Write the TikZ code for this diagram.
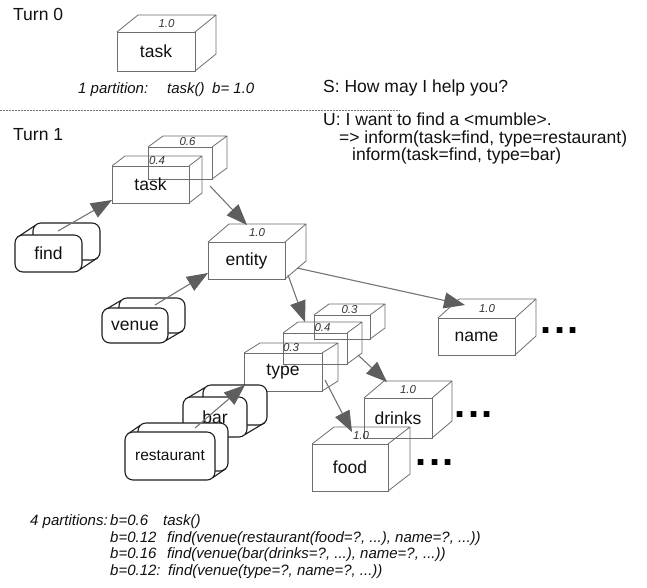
\documentclass[tikz,border=0pt]{standalone}
\usepackage{fontspec}
\setmainfont{Liberation Sans}
\usetikzlibrary{arrows.meta,calc}
\definecolor{edgecol}{HTML}{6E6E6E}
\definecolor{arrcol}{HTML}{747474}
\definecolor{headcol}{HTML}{5E5E5E}
\definecolor{rndcol}{HTML}{1E1E1E}
\definecolor{txtcol}{HTML}{111111}
\tikzset{
  face/.style={draw=edgecol, line width=0.8pt, inner sep=0pt, outer sep=0pt, text=txtcol, font=\fontsize{17.5}{21}\selectfont},
  edge/.style={draw=edgecol, line width=0.8pt, line join=round},
  toplbl/.style={inner sep=0pt, text=txtcol!85, font=\fontsize{11.5}{13}\selectfont\itshape},
  rnd/.style={draw=rndcol, fill=white, line width=1.1pt, rounded corners=8pt, inner sep=0pt, outer sep=0pt, text=txtcol, font=\fontsize{17.5}{21}\selectfont},
  rline/.style={draw=rndcol, line width=1.1pt},
  arr/.style={draw=arrcol, line width=1.1pt, -{Triangle[length=21pt,width=16pt,color=headcol]}},
  maintext/.style={inner sep=0pt, anchor=base west, text=txtcol, font=\fontsize{17.5}{21}\selectfont},
  ittext/.style={inner sep=0pt, anchor=base west, text=txtcol, font=\fontsize{15}{18}\selectfont\itshape},
  dots/.style={inner sep=0pt, anchor=base west, text=black, font=\fontsize{40}{44}\selectfont\bfseries},
  divider/.style={draw=arrcol, line width=0.6pt, dash pattern=on 2pt off 1pt}
}
% name, cx, cy, w, h, dx, dy, top label, text
\newcommand\cbox[9]{%
  \node[face, minimum width=#4, minimum height=#5] (#1) at (#2,#3) {#9};
  \draw[edge] (#1.north west) -- ++(#6,-#7) -- ($(#1.north east)+(#6,-#7)$) -- (#1.north east);
  \draw[edge] ($(#1.north east)+(#6,-#7)$) -- ($(#1.south east)+(#6,-#7)$) -- (#1.south east);
  \node[toplbl] at ($(#1.north)+(#6/2,-#7/2)$) {#8};
}
% name, cx, cy, w, h, dx, dy, text
\newcommand\rbox[8]{%
  \node[rnd, minimum width=#4, minimum height=#5] (#1b) at ($(#2,#3)+(#6,-#7)$) {};
  \draw[rline] ($(#2,#3)+(-#4/2+2.3,-#5/2+2.3)$) -- ++(#6,-#7);
  \draw[rline] ($(#2,#3)+(#4/2-2.3,#5/2-2.3)$) -- ++(#6,-#7);
  \node[rnd, minimum width=#4, minimum height=#5] (#1) at (#2,#3) {#8};
}
\begin{document}
\begin{tikzpicture}[x=1pt,y=-1pt]
\path[fill=white, use as bounding box] (0,0) rectangle (647,587);

% Turn 0
\node[maintext] (turn0) at (13,20) {Turn 0};
\cbox{tzero}{156}{51.5}{78}{39}{21}{17}{1.0}{task}
\node[ittext] (p1a) at (78,93) {1 partition:};
\node[ittext] (p1b) at (167,93) {task()};
\node[ittext] (p1c) at (212,93) {b= 1.0};
\coordinate (divL) at (0,110);
\coordinate (divR) at (400,110);
\draw[divider] (divL) -- (divR);

% dialogue
\node[maintext] (sys) at (323,92) {S: How may I help you?};
\node[maintext] (usr) at (323,125) {U: I want to find a <mumble>.};
\node[maintext] (inf1) at (339,143) {=> inform(task=find, type=restaurant)};
\node[maintext] (inf2) at (352,160) {inform(task=find, type=bar)};

% Turn 1
\node[maintext] (turn1) at (13,140) {Turn 1};
\cbox{taskB}{180}{163}{64}{32}{15}{11}{0.6}{}
\cbox{task}{150.5}{184.5}{77}{37}{13}{10}{0.4}{task}
\cbox{entity}{246.5}{260.5}{77}{37}{21}{18}{1.0}{entity}
\cbox{name}{476.5}{336.5}{77}{37}{21}{19}{1.0}{name}
\cbox{typeC}{342}{327}{56}{24}{15}{11}{0.3}{}
\cbox{typeB}{315}{348.5}{64}{31}{15}{11}{0.4}{}
\cbox{type}{283}{372}{78}{38}{16}{10}{0.3}{type}
\cbox{drinks}{398}{418}{68}{40}{20}{17}{1.0}{drinks}
\cbox{food}{350}{467.5}{76}{47}{22}{17}{1.0}{food}

\rbox{find}{48.5}{253.5}{67}{37}{18}{12}{find}
\rbox{venue}{135}{325.5}{66}{35}{17}{10}{venue}
\rbox{bar}{215}{417}{64}{40}{20}{12}{bar}
\rbox{rest}{170}{456}{90}{48}{13}{9}{\fontsize{15.5}{18}\selectfont restaurant}

% arrows
\draw[arr] ($(find.north)+(9.5,-4)$) -- ($(task.south west)+(0,-3)$);
\draw[arr] ($(task.east)+(21,1.5)$) -- ($(entity.north)+(0.5,-17)$);
\draw[arr] ($(venue.north)+(20,-3)$) -- ($(entity.south west)+(0,-6)$);
\draw[arr] ($(entity.south east)+(3,-4)$) -- ($(typeB.north)+(-10,-11)$);
\draw[arr] ($(entity.east)+(12,7.5)$) -- ($(name.north)+(-11.5,-13)$);
\draw[arr] ($(typeB.east)+(11,6.5)$) -- ($(drinks.north)+(-11,-16)$);
\draw[arr] ($(type.east)+(3,8)$) -- ($(food.north)+(2,-12)$);
\draw[arr] ($(rest.north)+(25,-4)$) -- ($(type.south west)+(1,-6)$);

% ellipses
\node[dots] (dname) at (540.2,333.5) {.\hspace{2.5pt}.\hspace{2.5pt}.};
\node[dots] (ddrinks) at (454.2,417.5) {.\hspace{2.5pt}.\hspace{2.5pt}.};
\node[dots] (dfood) at (415.2,465) {.\hspace{2.5pt}.\hspace{2.5pt}.};

% partitions
\node[ittext] (q0) at (30,525) {4 partitions:};
\node[ittext] (q1b) at (110,525) {b=0.6};
\node[ittext] (q1f) at (163,525) {task()};
\node[ittext] (q2b) at (110,542) {b=0.12};
\node[ittext] (q2f) at (167,542) {find(venue(restaurant(food=?, ...), name=?, ...))};
\node[ittext] (q3b) at (110,558) {b=0.16};
\node[ittext] (q3f) at (167,558) {find(venue(bar(drinks=?, ...), name=?, ...))};
\node[ittext] (q4b) at (110,575) {b=0.12:};
\node[ittext] (q4f) at (168,575) {find(venue(type=?, name=?, ...))};
\end{tikzpicture}
\end{document}
